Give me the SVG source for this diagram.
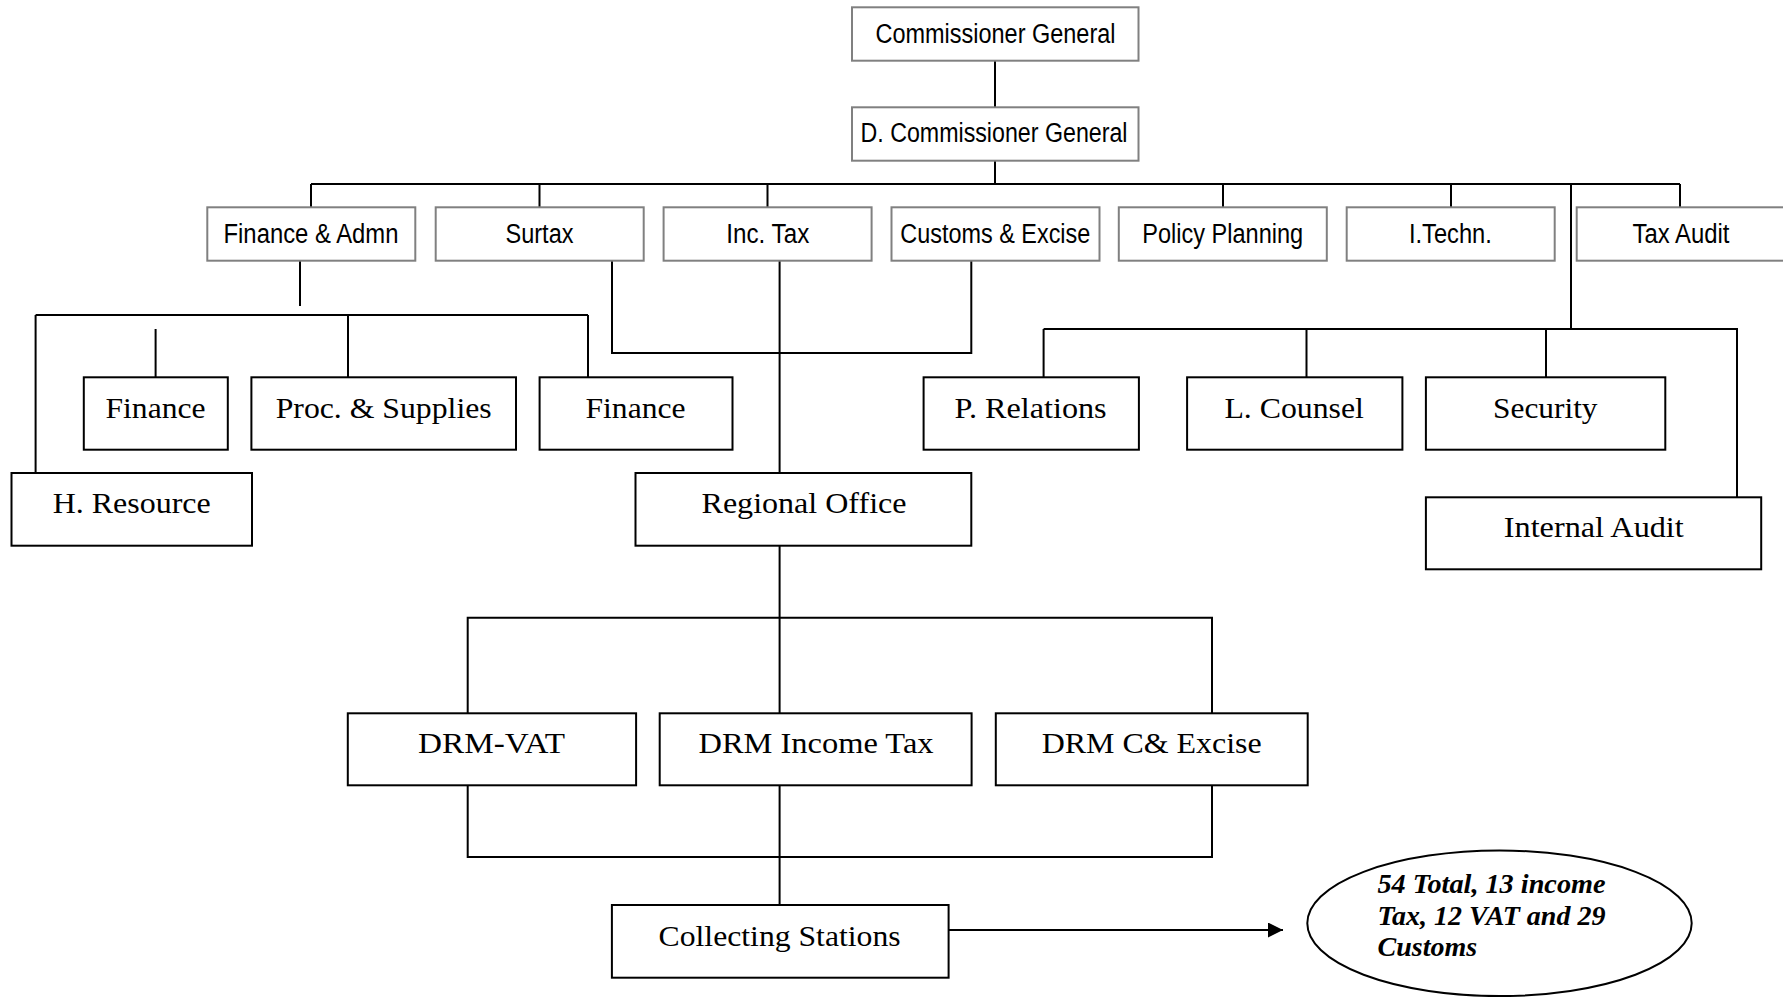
<svg xmlns="http://www.w3.org/2000/svg" width="1783" height="997" viewBox="0 0 1783 997">
<defs>
<style>
.top rect{fill:#fff;stroke:#808080;stroke-width:2}
.top text{font-family:"Liberation Sans",Arial,sans-serif;font-size:27px;fill:#000;text-anchor:middle}
.low rect{fill:#fff;stroke:#000;stroke-width:2}
.low text{font-family:"Liberation Serif","Times New Roman",serif;font-size:30px;fill:#000;text-anchor:middle}
.conn path{fill:none;stroke:#000;stroke-width:2}
.note{font-family:"Liberation Serif","Times New Roman",serif;font-size:28px;font-weight:bold;font-style:italic;fill:#000}
</style>
<marker id="arr" viewBox="0 0 10 10" refX="10" refY="5" markerWidth="7.5" markerHeight="7.5" orient="auto" markerUnits="strokeWidth">
<path d="M0,0 L10,5 L0,10 Z" fill="#000"/>
</marker>
</defs>
<rect width="1783" height="997" fill="#fff"/>

<g class="conn" id="connectors">
<path d="M995,61 V107"/>
<path d="M995,161 V184"/>
<path d="M311,184 H1680"/>
<path d="M311,184 V207 M539.5,184 V207 M767.5,184 V207 M1223,184 V207 M1451,184 V207 M1680,184 V207"/>
<path d="M1571,184 V329"/>
<path d="M300,261 V306"/>
<path d="M35.6,315 H588"/>
<path d="M35.6,315 V473"/>
<path d="M155.6,329 V377"/>
<path d="M348,315 V377"/>
<path d="M588,315 V377"/>
<path d="M612,261 V353 H971.3 V261"/>
<path d="M779.6,261 V473"/>
<path d="M1043.6,329 H1737 V497"/>
<path d="M1043.6,329 V377 M1306.5,329 V377 M1546,329 V377"/>
<path d="M779.6,546 V713"/>
<path d="M467.7,713 V617.7 H1212 V713"/>
<path d="M467.7,785 V857 H1212 V785"/>
<path d="M779.6,785 V905"/>
<path d="M948.6,930 H1283" marker-end="url(#arr)"/>
</g>

<g class="top">
<g id="n-cg"><rect x="852" y="7.3" width="286.5" height="53.4"/><text x="995.5" y="43" textLength="240" lengthAdjust="spacingAndGlyphs">Commissioner General</text></g>
<g id="n-dcg"><rect x="852" y="107.3" width="286.5" height="53.4"/><text x="994" y="142" textLength="267" lengthAdjust="spacingAndGlyphs">D. Commissioner General</text></g>
<g id="n-fa"><rect x="207.3" y="207.3" width="208" height="53.4"/><text x="311" y="242.7" textLength="175" lengthAdjust="spacingAndGlyphs">Finance &amp; Admn</text></g>
<g id="n-surtax"><rect x="435.7" y="207.3" width="208" height="53.4"/><text x="539.5" y="242.7" textLength="68" lengthAdjust="spacingAndGlyphs">Surtax</text></g>
<g id="n-inctax"><rect x="663.6" y="207.3" width="208" height="53.4"/><text x="767.8" y="242.7" textLength="83" lengthAdjust="spacingAndGlyphs">Inc. Tax</text></g>
<g id="n-customs"><rect x="891.5" y="207.3" width="208" height="53.4"/><text x="995.3" y="242.7" textLength="190" lengthAdjust="spacingAndGlyphs">Customs &amp; Excise</text></g>
<g id="n-policy"><rect x="1118.8" y="207.3" width="208" height="53.4"/><text x="1222.7" y="242.7" textLength="161" lengthAdjust="spacingAndGlyphs">Policy Planning</text></g>
<g id="n-itech"><rect x="1346.7" y="207.3" width="208" height="53.4"/><text x="1450.4" y="242.7" textLength="83" lengthAdjust="spacingAndGlyphs">I.Techn.</text></g>
<g id="n-taxaudit"><rect x="1576.7" y="207.3" width="208" height="53.4"/><text x="1681" y="242.7" textLength="97" lengthAdjust="spacingAndGlyphs">Tax Audit</text></g>
</g>

<g class="low">
<g id="n-finance1"><rect x="83.8" y="377.3" width="144" height="72.4"/><text x="155.5" y="417.7" textLength="100" lengthAdjust="spacingAndGlyphs">Finance</text></g>
<g id="n-proc"><rect x="251.4" y="377.3" width="264.6" height="72.4"/><text x="383.7" y="417.7" textLength="216" lengthAdjust="spacingAndGlyphs">Proc. &amp; Supplies</text></g>
<g id="n-finance2"><rect x="539.6" y="377.3" width="192.9" height="72.4"/><text x="635.5" y="417.7" textLength="100" lengthAdjust="spacingAndGlyphs">Finance</text></g>
<g id="n-hr"><rect x="11.5" y="473" width="240.5" height="72.7"/><text x="131.7" y="512.7" textLength="158" lengthAdjust="spacingAndGlyphs">H. Resource</text></g>
<g id="n-regional"><rect x="635.5" y="473" width="335.8" height="72.7"/><text x="804" y="512.7" textLength="205" lengthAdjust="spacingAndGlyphs">Regional Office</text></g>
<g id="n-pr"><rect x="923.6" y="377.3" width="215.3" height="72.4"/><text x="1030.6" y="417.7" textLength="152" lengthAdjust="spacingAndGlyphs">P. Relations</text></g>
<g id="n-lc"><rect x="1187.1" y="377.3" width="215.3" height="72.4"/><text x="1294.2" y="417.7" textLength="139.5" lengthAdjust="spacingAndGlyphs">L. Counsel</text></g>
<g id="n-security"><rect x="1425.9" y="377.3" width="239.4" height="72.4"/><text x="1545.3" y="417.7" textLength="104.5" lengthAdjust="spacingAndGlyphs">Security</text></g>
<g id="n-ia"><rect x="1425.9" y="497.3" width="335.3" height="72"/><text x="1593.8" y="536.7" textLength="180" lengthAdjust="spacingAndGlyphs">Internal Audit</text></g>
<g id="n-drmvat"><rect x="347.8" y="713.3" width="288.3" height="72"/><text x="491.5" y="753.3" textLength="147" lengthAdjust="spacingAndGlyphs">DRM-VAT</text></g>
<g id="n-drmit"><rect x="659.7" y="713.3" width="311.9" height="72"/><text x="816" y="753.3" textLength="235" lengthAdjust="spacingAndGlyphs">DRM Income Tax</text></g>
<g id="n-drmce"><rect x="995.8" y="713.3" width="311.9" height="72"/><text x="1151.7" y="753.3" textLength="220" lengthAdjust="spacingAndGlyphs">DRM C&amp; Excise</text></g>
<g id="n-cs"><rect x="611.9" y="905" width="336.7" height="72.7"/><text x="779.6" y="946" textLength="242" lengthAdjust="spacingAndGlyphs">Collecting Stations</text></g>
</g>

<g id="n-note">
<ellipse cx="1499.5" cy="923.3" rx="192.2" ry="72.8" fill="#fff" stroke="#000" stroke-width="2"/>
<text class="note" x="1377.5" y="893" textLength="228" lengthAdjust="spacingAndGlyphs">54 Total, 13 income</text>
<text class="note" x="1377.5" y="925">Tax, 12 VAT and 29</text>
<text class="note" x="1377.5" y="956">Customs</text>
</g>
</svg>
